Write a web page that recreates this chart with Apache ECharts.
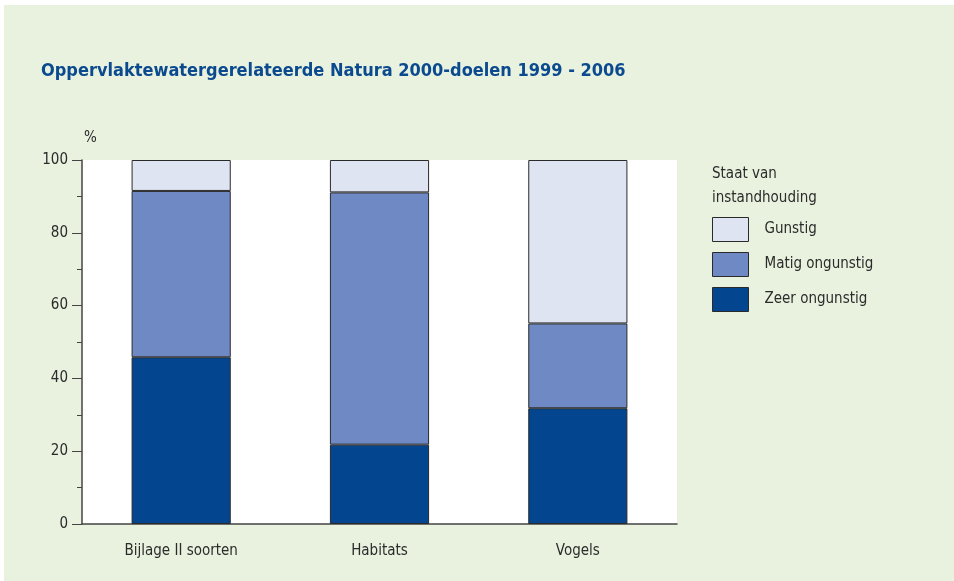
<!DOCTYPE html>
<html>
<head>
<meta charset="utf-8">
<script src="https://cdn.jsdelivr.net/npm/echarts@6/dist/echarts.min.js"></script>
<style>
  html, body { margin: 0; padding: 0; background: #fff; }
  #chart { position: absolute; left: 4px; top: 5px; width: 950px; height: 576px; background: #e9f2df; }
</style>
</head>
<body>
<div id="chart"></div>
<script>
const categories = ['Bijlage II soorten', 'Habitats', 'Vogels'];
const zeerOngunstig = [45.8, 21.8, 31.8];
const matigOngunstig = [45.7, 69.3, 23.3];
const gunstig = [8.5, 8.9, 44.9];
const yTicks = [0, 20, 40, 60, 80, 100];

const font = '"Liberation Sans Narrow", "Arial Narrow", "DejaVu Sans Condensed", sans-serif';
const textColor = '#2b2b2b';
const edge = '#2a2a2a';

const chart = echarts.init(document.getElementById('chart'));

const barSeries = (name, data, color) => ({
  name: name,
  type: 'bar',
  stack: 'total',
  barWidth: '50%',
  data: data,
  itemStyle: { color: color, borderColor: edge, borderWidth: 1 },
  emphasis: { disabled: true }
});

chart.setOption({
  animation: false,
  textStyle: { fontFamily: font },
  title: {
    text: 'Oppervlaktewatergerelateerde Natura 2000-doelen 1999 - 2006',
    left: 32,
    top: 52,
    textStyle: { color: '#0b4a8e', fontSize: 18, fontWeight: 'bold', fontFamily: font }
  },
  graphic: [
    { type: 'text', left: 80, top: 126, style: { text: '%', fontSize: 15, fill: textColor, fontFamily: font } },
    { type: 'text', left: 708, top: 157, style: { text: 'Staat van\ninstandhouding', fontSize: 15, lineHeight: 24, fill: textColor, fontFamily: font } }
  ],
  legend: {
    orient: 'vertical',
    left: 703,
    top: 207,
    itemWidth: 36,
    itemHeight: 24,
    itemGap: 10,
    icon: 'rect',
    data: ['Gunstig', 'Matig ongunstig', 'Zeer ongunstig'],
    itemStyle: { borderColor: edge, borderWidth: 1 },
    textStyle: { fontSize: 15, color: textColor, fontFamily: font, padding: [0, 0, 0, 11] },
    selectedMode: false
  },
  grid: {
    left: 78,
    right: 277,
    top: 155,
    bottom: 57,
    show: true,
    backgroundColor: '#ffffff',
    borderWidth: 0
  },
  xAxis: {
    type: 'category',
    data: categories,
    axisLine: { lineStyle: { color: '#444', width: 1.5 } },
    axisTick: { show: false },
    axisLabel: { color: textColor, fontSize: 15, margin: 20, fontFamily: font }
  },
  yAxis: {
    type: 'value',
    min: 0,
    max: 100,
    interval: 20,
    axisLine: { show: true, lineStyle: { color: '#444', width: 1.5 } },
    axisTick: { show: true, length: 10, lineStyle: { color: '#444' } },
    minorTick: { show: true, splitNumber: 2, length: 5, lineStyle: { color: '#444' } },
    splitLine: { show: false },
    axisLabel: {
      color: textColor, fontSize: 15, margin: 14, fontFamily: font,
      formatter: v => yTicks.includes(v) ? String(v) : ''
    }
  },
  series: [
    barSeries('Zeer ongunstig', zeerOngunstig, '#03458e'),
    barSeries('Matig ongunstig', matigOngunstig, '#6e89c3'),
    barSeries('Gunstig', gunstig, '#dfe4f2')
  ]
});
</script>
</body>
</html>
